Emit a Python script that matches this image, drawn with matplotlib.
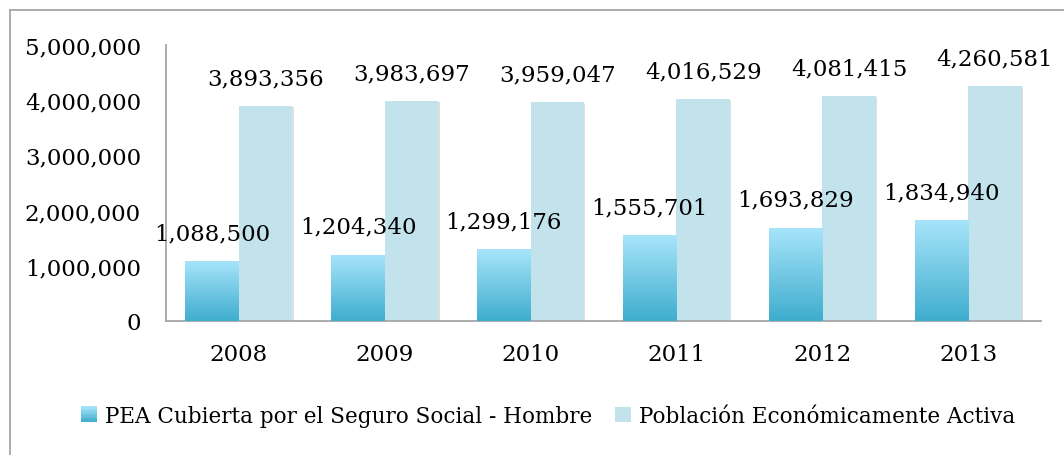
import numpy as np
import matplotlib
matplotlib.use('Agg')
import matplotlib.pyplot as plt
from matplotlib.lines import Line2D
from matplotlib.patches import Rectangle
from matplotlib.legend_handler import HandlerBase
import matplotlib.patheffects as pe
from matplotlib.colors import LinearSegmentedColormap

years = ['2008', '2009', '2010', '2011', '2012', '2013']
pea_hombre = [1088500, 1204340, 1299176, 1555701, 1693829, 1834940]
pea_total = [3893356, 3983697, 3959047, 4016529, 4081415, 4260581]
labels = ['PEA Cubierta por el Seguro Social - Hombre', 'Población Económicamente Activa']

grad_top = '#a8e5fb'
grad_bottom = '#3fadce'
total_color = '#c3e3ec'
cmap = LinearSegmentedColormap.from_list('pea', [grad_bottom, grad_top])

plt.rcParams['font.family'] = 'DejaVu Serif'
fs = 16.5
legend_fs = 15.5

W, H = 1064, 456
fig = plt.figure(figsize=(W / 100, H / 100), dpi=100)
ax = fig.add_axes([166 / W, 1 - 322 / H, (1041 - 166) / W, (322 - 46) / H])

x = np.arange(len(years))
bw = 0.367
shadow = [pe.SimplePatchShadow(offset=(1, -1), shadow_rgbFace='#808080', alpha=0.25), pe.Normal()]

bars1 = ax.bar(x - bw / 2, pea_hombre, bw, color=grad_bottom, path_effects=shadow, zorder=2)
bars2 = ax.bar(x + bw / 2, pea_total, bw, color=total_color, path_effects=shadow, zorder=2)

# vertical gradient on the first series
grad = np.linspace(0, 1, 256).reshape(-1, 1)
for b in bars1:
    x0, y0 = b.get_x(), b.get_y()
    w, h = b.get_width(), b.get_height()
    im = ax.imshow(grad, cmap=cmap, origin='lower', aspect='auto',
                   extent=[x0, x0 + w, y0, y0 + h], zorder=3)
    im.set_clip_path(b)

for b, v in zip(bars1, pea_hombre):
    ax.annotate(f'{v:,}', (b.get_x() + b.get_width() / 2, v), xytext=(0, 12),
                textcoords='offset points', ha='center', va='bottom', fontsize=fs, zorder=5)
for b, v in zip(bars2, pea_total):
    ax.annotate(f'{v:,}', (b.get_x() + b.get_width() / 2, v), xytext=(0, 12),
                textcoords='offset points', ha='center', va='bottom', fontsize=fs, zorder=5)

ax.set_xlim(-0.5, len(years) - 0.5)
ax.set_ylim(0, 5000000)
ax.set_yticks(np.arange(0, 5000001, 1000000))
ax.yaxis.set_major_formatter(matplotlib.ticker.FuncFormatter(lambda v, p: f'{int(v):,}'))
ax.set_xticks(x)
ax.set_xticklabels(years)
ax.tick_params(axis='both', length=0, labelsize=fs)
ax.tick_params(axis='y', pad=18)
ax.tick_params(axis='x', pad=16)
for s in ['top', 'right']:
    ax.spines[s].set_visible(False)
for s in ['left', 'bottom']:
    ax.spines[s].set_color('#a6a6a6')
    ax.spines[s].set_linewidth(1.3)


class GradientHandler(HandlerBase):
    def create_artists(self, legend, orig_handle, xdescent, ydescent, width, height, fontsize, trans):
        n = 12
        side = height * 1.05
        x0 = xdescent + (width - side) / 2
        y0 = -ydescent + (height - side) / 2
        arts = []
        for i in range(n):
            c = cmap(1 - i / (n - 1))
            r = Rectangle((x0, y0 + side * (n - 1 - i) / n), side, side / n + 0.3,
                          facecolor=c, edgecolor='none', transform=trans)
            arts.append(r)
        return arts


class SquareHandler(HandlerBase):
    def create_artists(self, legend, orig_handle, xdescent, ydescent, width, height, fontsize, trans):
        side = height * 1.05
        x0 = xdescent + (width - side) / 2
        y0 = -ydescent + (height - side) / 2
        return [Rectangle((x0, y0), side, side, facecolor=total_color, edgecolor='none', transform=trans)]


h1 = Rectangle((0, 0), 1, 1)
h2 = Rectangle((0, 1), 1, 1)
fig.legend([h1, h2], labels, handler_map={h1: GradientHandler(), h2: SquareHandler()},
           loc='center', bbox_to_anchor=(548 / W, 1 - 417 / H), ncol=2, frameon=False,
           fontsize=legend_fs, handlelength=0.8, handletextpad=0.35, columnspacing=1.0)

fig.add_artist(Line2D([9.5 / W, 9.5 / W], [0, 1 - 10.5 / H], color='#a6a6a6', lw=1.3))
fig.add_artist(Line2D([9.5 / W, 1], [1 - 10.5 / H, 1 - 10.5 / H], color='#a6a6a6', lw=1.3))

fig.savefig('out.png', dpi=100)
